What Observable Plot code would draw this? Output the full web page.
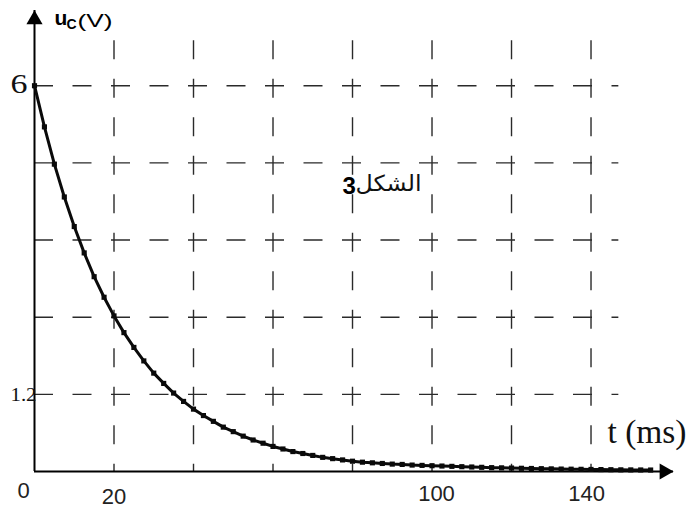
<!DOCTYPE html>
<html><head><meta charset="utf-8">
<script src="https://cdn.jsdelivr.net/npm/d3@7"></script>
<script src="https://cdn.jsdelivr.net/npm/@observablehq/plot@0.6"></script>
<style>html,body{margin:0;padding:0;background:#fff}</style>
</head><body><div id="chart"></div>
<script>
// ---- data ----
const tMs = [0,2.5,5,7.5,10,12.5,15,17.5,20,22.5,25,27.5,30,32.5,35,37.5,40,42.5,45,47.5,50,52.5,55,57.5,60,62.5,65,67.5,70,72.5,75,77.5,80,82.5,85,87.5,90,92.5,95,97.5,100,102.5,105,107.5,110,112.5,115,117.5,120,122.5,125,127.5,130,132.5,135,137.5,140,142.5,145,147.5,150,152.5,155];
const uC = [6.00,5.36,4.78,4.27,3.81,3.40,3.03,2.71,2.42,2.16,1.93,1.72,1.53,1.37,1.22,1.09,0.97,0.87,0.78,0.69,0.62,0.55,0.49,0.44,0.39,0.35,0.31,0.28,0.25,0.22,0.20,0.18,0.16,0.145,0.135,0.125,0.115,0.11,0.10,0.095,0.09,0.085,0.08,0.075,0.07,0.065,0.06,0.057,0.054,0.05,0.047,0.044,0.041,0.038,0.036,0.034,0.032,0.03,0.028,0.026,0.025,0.024,0.023];
const xGrid = [20,40,60,80,100,120,140];
const yGrid = [1.2,2.4,3.6,4.8,6];
const xTickLabels = [0,20,100,140];
const yTickLabels = [6,1.2];
const xLabel = "t (ms)";
const yLabelMain = "u", yLabelSub = "C", yLabelUnit = "(V)";
const figWord = "الشكل", figNum = "3";

const xMax = 160.75, yMax = 7.17;      // arrow tips of the axes
const xGridEnd = 147, yGridEnd = 6.7;  // extent of the dashed grid

const pts = tMs.map((t, i) => ({t, u: uC[i]}));
const dash = "19,19.5";
const grid = "#2a2a2a";

const svg = Plot.plot({
  width: 688, height: 509,
  marginLeft: 34, marginRight: 15, marginTop: 10, marginBottom: 38,
  x: {domain: [0, xMax], axis: null},
  y: {domain: [0, yMax], axis: null},
  style: {background: "#fff", overflow: "visible"},
  marks: [
    Plot.ruleY(yGrid, {y: d => d, x1: 0, x2: xGridEnd, stroke: grid, strokeWidth: 1.4, strokeDasharray: dash}),
    Plot.ruleX(xGrid, {x: d => d, y1: yGridEnd, y2: 0, stroke: grid, strokeWidth: 1.4, strokeDasharray: dash}),
    Plot.ruleX([0], {x: d => d, y1: 0, y2: yMax, stroke: "#000", strokeWidth: 2}),
    Plot.ruleY([0], {y: d => d, x1: 0, x2: xMax, stroke: "#000", strokeWidth: 2}),
    Plot.dot([0], {x: d => d, y: yMax, symbol: "triangle", r: 6, fill: "#000", stroke: "none", dy: 9.2}),
    Plot.dot([0], {x: xMax, y: d => d, symbol: "triangle", r: 6, fill: "#000", stroke: "none", rotate: 90, dx: -9.2}),
    Plot.line(pts, {x: "t", y: "u", stroke: "#0a0a0a", strokeWidth: 3}),
    Plot.dot(pts, {x: "t", y: "u", symbol: "square", r: 2.9, fill: "#0a0a0a", stroke: "none"}),
    // x tick labels
    Plot.text(xTickLabels.filter(d => d === 0), {x: d => d, y: 0, text: d => String(d), dx: -11, dy: 19, fontFamily: "Liberation Sans", fontSize: 22, fill: "#222"}),
    Plot.text(xTickLabels.filter(d => d === 20), {x: d => d, y: 0, text: d => String(d), dx: 0, dy: 25, fontFamily: "Liberation Sans", fontSize: 22, fill: "#222"}),
    Plot.text(xTickLabels.filter(d => d === 100), {x: d => d, y: 0, text: d => String(d), dx: 4.5, dy: 22.5, fontFamily: "Liberation Sans", fontSize: 22, fill: "#222"}),
    Plot.text(xTickLabels.filter(d => d === 140), {x: d => d, y: 0, text: d => String(d), dx: -4.5, dy: 22.5, fontFamily: "Liberation Sans", fontSize: 22, fill: "#222"}),
    // y tick labels
    Plot.text(yTickLabels.filter(d => d === 6), {x: 0, y: d => d, text: d => String(d), textAnchor: "end", dx: -7, dy: -1, fontFamily: "Liberation Serif", fontSize: 27, fill: "#111"}),
    Plot.text(yTickLabels.filter(d => d === 1.2), {x: 0, y: d => d, text: d => String(d), textAnchor: "end", dx: 2, dy: 1, fontFamily: "Liberation Serif", fontSize: 19, fill: "#111"}),
    // axis labels
    Plot.text([xLabel], {frameAnchor: "bottom-right", text: d => d, textAnchor: "start", lineAnchor: "bottom", dx: -66, dy: -29, fontFamily: "Liberation Serif", fontSize: 34, fill: "#111"}),
    Plot.text([yLabelMain], {frameAnchor: "top-left", text: d => d, textAnchor: "start", lineAnchor: "bottom", dx: 20, dy: 14, fontFamily: "Liberation Sans", fontWeight: "bold", fontSize: 21, fill: "#000"}),
    Plot.text([yLabelSub], {frameAnchor: "top-left", text: d => d, textAnchor: "start", lineAnchor: "bottom", dx: 32, dy: 18, fontFamily: "Liberation Sans", fontWeight: "bold", fontSize: 14, fill: "#000"}),
    Plot.text([yLabelUnit], {frameAnchor: "top-left", text: d => d, textAnchor: "start", lineAnchor: "bottom", dx: 43, dy: 16, fontFamily: "Liberation Sans", fontSize: 19, fill: "#000"}),
    // figure caption inside the plot
    Plot.text([figNum], {frameAnchor: "top-left", text: d => d, textAnchor: "start", lineAnchor: "bottom", dx: 308, dy: 183, fontFamily: "Liberation Sans", fontWeight: "bold", fontSize: 24, fill: "#000"}),
    Plot.text([figWord], {frameAnchor: "top-left", text: d => d, textAnchor: "start", lineAnchor: "bottom", dx: 321, dy: 180, fontFamily: "DejaVu Sans", fontSize: 22, fill: "#111"})
  ]
});

// horizontal stretch of a few labels, as in the reference
const stretch = {"6": 17, "1.2": 26, "t (ms)": 79, "(V)": 35};
stretch[figWord] = 66;
d3.select(svg).selectAll("text").each(function() {
  const s = stretch[this.textContent];
  if (s) { this.setAttribute("textLength", s); this.setAttribute("lengthAdjust", "spacingAndGlyphs"); }
});
document.getElementById("chart").appendChild(svg);
</script>
</body></html>
